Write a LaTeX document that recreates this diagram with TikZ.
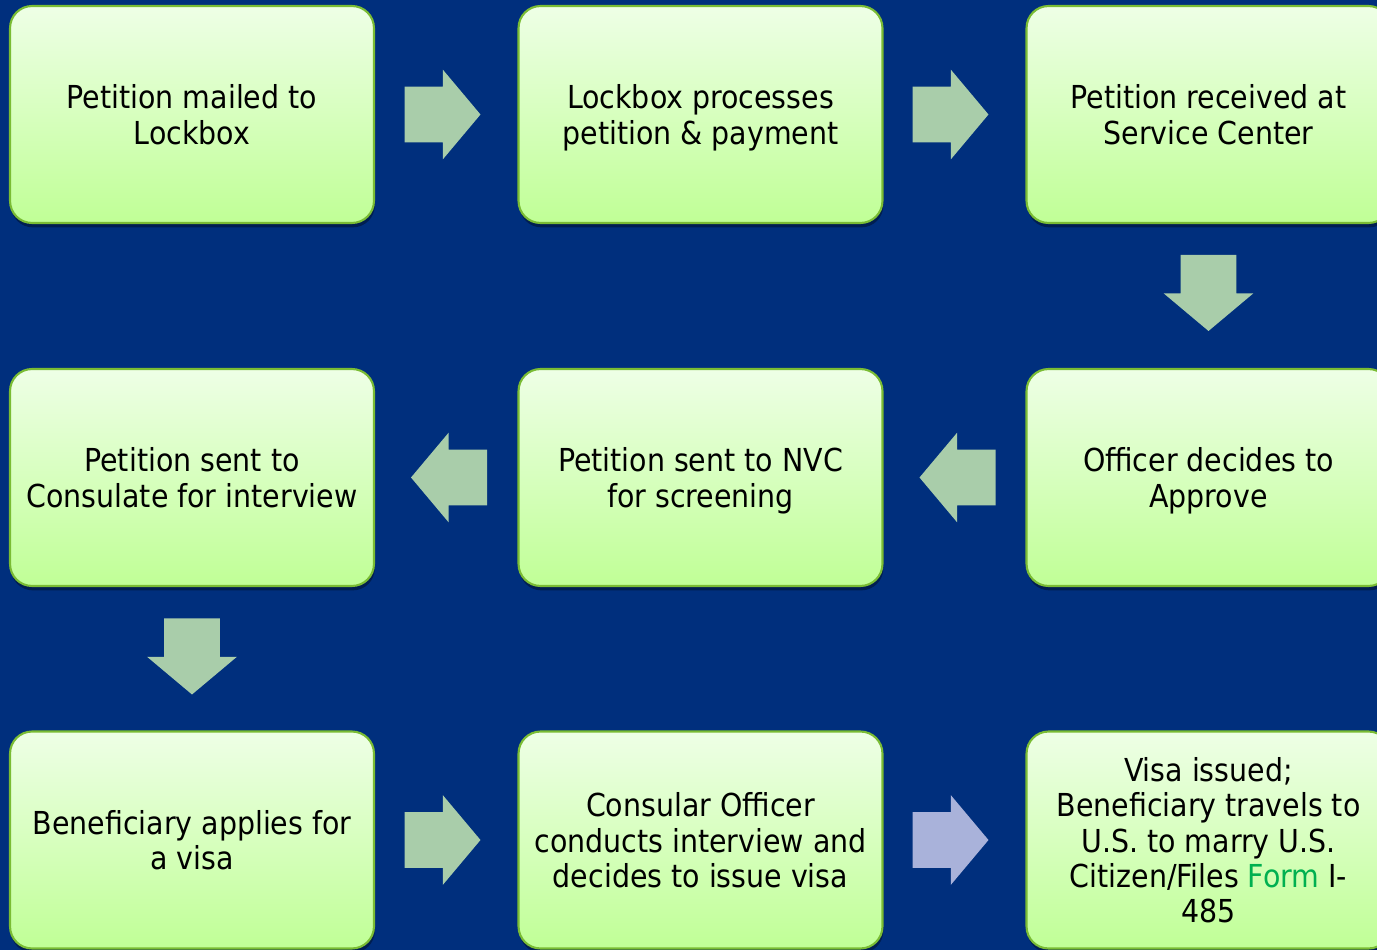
\documentclass[tikz,border=0pt]{standalone}
\usepackage{fontspec}
\setmainfont{DejaVu Sans Condensed}
\usetikzlibrary{shapes.arrows,shadows,calc}

\definecolor{slidebg}{RGB}{0,47,125}
\definecolor{boxtop}{RGB}{238,255,230}
\definecolor{boxbottom}{RGB}{192,255,150}
\definecolor{boxedge}{RGB}{122,188,52}
\definecolor{arrowgreen}{RGB}{169,205,170}
\definecolor{arrowblue}{RGB}{169,178,218}
\definecolor{formgreen}{RGB}{0,176,80}

\tikzset{
  stepbox/.style={rectangle, rounded corners=0.44cm, draw=boxedge,
    line width=1.2pt, top color=boxtop, bottom color=boxbottom,
    minimum width=7.28cm, minimum height=4.34cm, align=center,
    text depth=0pt, font=\fontsize{18}{20}\selectfont,
    drop shadow={shadow xshift=0.5pt, shadow yshift=-2.5pt, opacity=.35, fill=black}},
  blockarrow/.style={single arrow, fill=arrowgreen, draw=none,
    inner xsep=0pt, inner ysep=0.55cm, outer sep=0pt,
    minimum height=1.52cm, anchor=tip,
    single arrow head extend=0.34cm, single arrow tip angle=100,
    single arrow head indent=0pt}
}

\begin{document}
\begin{tikzpicture}[x=0.02cm,y=-0.02cm]
        \useasboundingbox (0,0) rectangle (1377,950);
        \fill[slidebg] (0,0) rectangle (1377,950);
        \clip (0,0) rectangle (1377,950);

        % first row
        \node[stepbox] (mail) at (192,114.5) {Petition mailed to\\Lockbox};
        \node[stepbox] (lockbox) at (700.5,114.5) {Lockbox processes\\petition \& payment};
        \node[stepbox] (received) at (1208.5,114.5) {Petition received at\\Service Center};

        % second row
        \node[stepbox] (approve) at (1208.5,477.5) {Officer decides to\\Approve};
        \node[stepbox] (nvc) at (700.5,477.5) {Petition sent to NVC\\for screening};
        \node[stepbox] (consulate) at (192,477.5) {Petition sent to\\Consulate for interview};

        % third row
        \node[stepbox] (applies) at (192,840) {Beneficiary applies for\\a visa};
        \node[stepbox] (interview) at (700.5,840) {Consular Officer\\conducts interview and\\decides to issue visa};
        \node[stepbox] (issued) at (1208.5,840) {Visa issued;\\Beneficiary travels to\\U.S. to marry U.S.\\Citizen/Files \textcolor{formgreen}{Form} I-\\485};

        % block arrows, placed by their tips
        \node[blockarrow] (a1) at ($(lockbox.west)+(-37,0)$) {};
        \node[blockarrow] (a2) at ($(received.west)+(-37,0)$) {};
        \node[blockarrow,rotate=-90] (a3) at ($(approve.north)+(0,-37)$) {};
        \node[blockarrow,rotate=180] (a4) at ($(nvc.east)+(36,0)$) {};
        \node[blockarrow,rotate=180] (a5) at ($(consulate.east)+(36,0)$) {};
        \node[blockarrow,rotate=-90] (a6) at ($(applies.north)+(0,-36)$) {};
        \node[blockarrow] (a7) at ($(interview.west)+(-37,0)$) {};
        \node[blockarrow,fill=arrowblue] (a8) at ($(issued.west)+(-37,0)$) {};
\end{tikzpicture}
\end{document}
